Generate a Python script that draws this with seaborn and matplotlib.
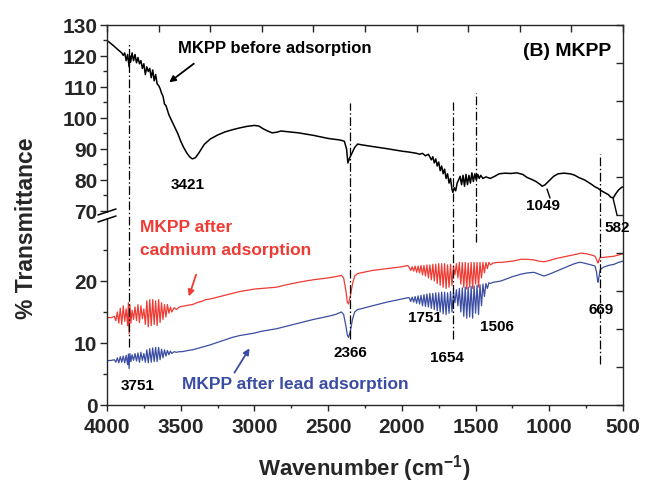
import matplotlib
matplotlib.use("Agg")
import matplotlib.pyplot as plt
from matplotlib.patches import FancyArrowPatch, Rectangle
from matplotlib.lines import Line2D
import seaborn as sns

# ---------------- data ----------------
wn_before = [4000, 3960, 3920, 3900, 3890, 3880, 3870, 3860, 3850, 3845,
             3840, 3830, 3820, 3810, 3800, 3790, 3780, 3770, 3760, 3750,
             3740, 3730, 3720, 3710, 3700, 3690, 3680, 3670, 3660, 3650,
             3640, 3630, 3620, 3610, 3600, 3580, 3560, 3540, 3520, 3500,
             3480, 3460, 3440, 3421, 3400, 3380, 3360, 3340, 3300, 3250,
             3200, 3150, 3100, 3050, 3000, 2970, 2940, 2910, 2880, 2850,
             2820, 2780, 2700, 2600, 2500, 2420, 2390, 2375, 2366, 2355,
             2340, 2320, 2300, 2280, 2200, 2100, 2000, 1950, 1900, 1880,
             1860, 1840, 1820, 1800, 1790, 1780, 1770, 1760, 1750, 1740,
             1730, 1720, 1710, 1700, 1690, 1680, 1670, 1660, 1654, 1645,
             1635, 1625, 1615, 1605, 1595, 1585, 1575, 1565, 1555, 1545,
             1535, 1525, 1515, 1505, 1495, 1485, 1475, 1465, 1450, 1430,
             1400, 1370, 1340, 1300, 1260, 1220, 1180, 1150, 1120, 1090,
             1060, 1049, 1030, 1000, 970, 940, 900, 860, 830, 800,
             760, 720, 690, 669, 650, 620, 600, 582, 565, 550,
             530, 510, 500]
t_before = [125, 123.5, 121.8, 121, 120.2, 121, 118.5, 120.5, 116.5, 120,
            118, 121, 118.5, 120.5, 117.8, 119.5, 117.5, 118.5, 116, 117.5,
            114, 116.5, 115, 116, 113, 115.5, 112, 114, 111, 110.5,
            109.5, 108, 107, 104.5, 104, 101, 99, 97, 95, 92.5,
            90.5, 88.8, 87.5, 86.8, 87.2, 88.5, 90, 91.5, 93.2, 94.5,
            95.5, 96.2, 96.8, 97.3, 97.6, 97.4, 96.5, 95.8, 95.2, 95.4,
            95.8, 95.6, 95.2, 94.4, 93.4, 92.9, 92.5, 90, 85.5, 87,
            88.5, 90.5, 91.6, 91.4, 90.8, 90.1, 89.3, 89, 88.6, 88.3,
            88.6, 87.8, 88.3, 86.5, 87.5, 85.5, 86.8, 84.5, 85.8, 83,
            84.5, 82, 83.5, 80.5, 82, 79, 80.5, 77, 76, 77.5,
            76.5, 79, 80, 81.2, 78.5, 81.5, 78, 81.8, 78.5, 81.5,
            79, 82.3, 79.5, 82, 80, 81.8, 80.5, 81.5, 80.5, 81,
            80.5, 81.2, 82, 82.2, 82.1, 82.3, 81.8, 80.8, 80.2, 79.5,
            78.5, 78.0, 78.4, 79.8, 81.2, 82.0, 82.2, 82.0, 81.6, 80.8,
            80.0, 78.8, 77.8, 77.3, 76.6, 75.8, 75.3, 74.4, 74.3, 75.5,
            76.8, 77.6, 77.8]

wn_after = [4000, 3970, 3950, 3940, 3930, 3920, 3910, 3900, 3890, 3880,
            3870, 3860, 3855, 3850, 3845, 3838, 3830, 3820, 3810, 3800,
            3790, 3780, 3770, 3760, 3750, 3740, 3730, 3720, 3710, 3700,
            3690, 3680, 3670, 3660, 3650, 3640, 3630, 3620, 3610, 3600,
            3590, 3580, 3570, 3560,
            3545, 3530, 3510, 3490, 3470, 3450, 3420, 3390, 3360, 3330,
            3300, 3250, 3200, 3150, 3100, 3050, 3000, 2950, 2900, 2850,
            2800, 2700, 2600, 2500, 2450, 2410, 2395, 2380, 2370, 2362,
            2350, 2335, 2320, 2300, 2280, 2200, 2100, 2000, 1960,
            1950, 1940, 1930, 1920, 1910, 1900, 1890, 1880, 1870, 1860,
            1850, 1840, 1830, 1820, 1810, 1800, 1790, 1780, 1770, 1760,
            1750, 1740, 1730, 1720, 1710, 1700, 1690, 1680, 1670, 1660,
            1650, 1640, 1630, 1620, 1610, 1600, 1590, 1580, 1570, 1560,
            1550, 1540, 1530, 1520, 1510, 1500, 1490, 1480, 1470, 1460,
            1450, 1440, 1430, 1420, 1410,
            1400, 1380, 1350, 1328, 1250, 1192, 1150, 1104, 1070, 1036,
            1000, 960, 920, 880, 840, 800, 784, 750, 716, 690,
            680, 672, 669, 664, 655, 635, 600, 560, 530, 500]
t_cadmium = [14.1, 14.1, 14.3, 13.6, 15.0, 13.2, 15.6, 13.0, 16.0, 13.5,
             15.5, 12.8, 16.5, 11.5, 16.2, 13.2, 15.3, 13.8, 15.8, 13.6,
             16.2, 13.3, 16.0, 13.9, 15.5, 13.0, 16.8, 12.6, 17.0, 12.8,
             17.0, 13.0, 16.8, 12.8, 17.0, 13.3, 16.5, 13.8, 16.2, 14.2,
             16.2, 14.8, 15.8, 15.0,
             15.7, 15.4, 15.8, 15.9, 16.0, 16.1, 16.2, 16.5, 16.7, 17.0,
             17.1, 17.4, 17.7, 18.0, 18.3, 18.5, 18.7, 18.8, 18.9, 19.0,
             19.3, 19.8, 20.2, 20.5, 20.7, 20.9, 20.5, 18.5, 16.6, 16.3,
             17.5, 19.5, 20.8, 21.2, 21.3, 21.7, 22.0, 22.3, 22.5,
             22.2, 21.7, 22.3, 21.6, 22.4, 21.4, 22.4, 21.3, 22.5, 21.0,
             22.5, 20.8, 22.6, 20.5, 22.6, 20.2, 22.7, 20.0, 22.7, 19.6,
             22.8, 19.3, 22.8, 19.0, 22.8, 18.8, 22.6, 19.0, 22.7, 19.3,
             22.4, 21.0, 22.8, 20.5, 23.0, 19.5, 23.0, 19.0, 23.0, 18.7,
             22.9, 19.0, 23.0, 18.8, 23.0, 19.5, 23.0, 19.0, 23.0, 20.5,
             23.0, 21.3, 23.0, 22.0, 23.0,
             22.6, 22.9, 23.0, 23.0, 23.2, 23.5, 23.5, 23.4, 23.2, 23.1,
             23.3, 23.6, 23.8, 24.0, 24.2, 24.4, 24.5, 24.4, 24.2, 24.0,
             23.5, 23.0, 22.9, 23.3, 23.8, 23.8, 23.9, 24.0, 24.2, 24.4]
t_lead = [7.15, 7.2, 7.3, 6.9, 7.6, 6.8, 7.8, 6.9, 7.9, 6.8,
          8.0, 6.5, 8.2, 5.9, 8.3, 7.0, 8.1, 7.2, 8.3, 7.1,
          8.4, 6.9, 8.5, 7.2, 8.3, 6.9, 8.9, 6.8, 9.1, 6.9,
          9.2, 7.0, 9.3, 7.0, 9.3, 7.3, 9.0, 7.6, 8.9, 7.9,
          8.8, 8.1, 8.7, 8.3,
          8.6, 8.5, 8.6, 8.6, 8.7, 8.8, 8.9, 9.1, 9.3, 9.5,
          9.7, 10.1, 10.5, 10.9, 11.2, 11.4, 11.6, 11.9, 12.1, 12.3,
          12.6, 13.2, 13.8, 14.3, 14.6, 15.0, 14.6, 12.8, 11.3, 10.9,
          11.8, 13.8, 15.0, 15.4, 15.5, 16.0, 16.6, 17.1, 17.3,
          17.3, 16.7, 17.4, 16.6, 17.5, 16.4, 17.6, 16.3, 17.7, 16.0,
          17.8, 15.9, 17.9, 15.8, 18.0, 15.6, 18.0, 15.4, 18.1, 15.2,
          18.1, 15.0, 18.2, 14.7, 18.2, 14.6, 18.1, 14.8, 18.3, 15.0,
          18.2, 16.5, 18.6, 16.0, 18.8, 15.0, 18.9, 14.3, 19.0, 14.0,
          19.0, 14.2, 19.1, 14.0, 19.2, 14.8, 19.3, 14.6, 19.4, 16.0,
          19.5, 17.5, 19.6, 18.8, 19.7,
          19.6, 19.8, 19.9, 20.0, 20.7, 21.1, 21.3, 21.4, 21.1, 20.8,
          21.1, 21.5, 21.9, 22.3, 22.7, 23.0, 23.0, 22.8, 22.6, 22.4,
          21.5, 20.0, 19.8, 20.5, 21.8, 22.2, 22.5, 22.7, 23.0, 23.2]

x_major = [4000, 3500, 3000, 2500, 2000, 1500, 1000, 500]
x_minor = [3750, 3250, 2750, 2250, 1750, 1250, 750]
low_major = [0, 10, 20]
low_minor = [5, 15, 25]
up_major = [70, 80, 90, 100, 110, 120, 130]
up_minor = [75, 85, 95, 105, 115, 125]
frame_xticks = [4000, 3650, 3300, 2950, 2600, 2250, 1900, 1550, 1200, 850, 500]
frame_yticks = [0, 1, 2, 3, 4, 5, 6, 7, 8, 9, 10]
marker_lines = [3848, 2355, 1650, 1498, 658]

RED = "#EE3B34"
BLUE = "#3A4DA2"

# ---------------- style ----------------
sns.set_style("ticks")
plt.rcParams["font.family"] = ["Liberation Sans", "DejaVu Sans"]
plt.rcParams["font.weight"] = "bold"
plt.rcParams["mathtext.fontset"] = "custom"
plt.rcParams["mathtext.rm"] = "Liberation Sans:bold"
plt.rcParams["mathtext.default"] = "rm"
plt.rcParams["axes.linewidth"] = 1.0

W, H = 645, 485
fig = plt.figure(figsize=(W / 100, H / 100), dpi=100)


def fx(p):
    return p / W


def fy(p):
    return 1 - p / H


L, R = fx(107), fx(623)
ax_low = fig.add_axes([L, fy(406), R - L, fy(219) - fy(406)])
ax_up = fig.add_axes([L, fy(214), R - L, fy(26) - fy(214)])
frame = fig.add_axes([L, fy(406), R - L, fy(26) - fy(406)])
frame.patch.set_visible(False)
ax_low.patch.set_visible(False)
ax_up.patch.set_visible(False)

sns.lineplot(x=wn_before, y=t_before, ax=ax_up, color="black", linewidth=1.1,
             sort=False, estimator=None)
sns.lineplot(x=wn_after, y=t_cadmium, ax=ax_low, color=RED, linewidth=0.9,
             sort=False, estimator=None)
sns.lineplot(x=wn_after, y=t_lead, ax=ax_low, color=BLUE, linewidth=0.9,
             sort=False, estimator=None)

for ax in (ax_low, ax_up, frame):
    ax.set_xlim(4000, 500)
    ax.set_xlabel("")
    ax.set_ylabel("")

TICK_FS = 15

# lower axis
ax_low.set_ylim(0, 30.16)
ax_low.set_xticks(x_major)
ax_low.set_xticklabels([str(v) for v in x_major])
ax_low.set_xticks(x_minor, minor=True)
ax_low.set_yticks(low_major)
ax_low.set_yticklabels([str(v) for v in low_major])
ax_low.set_yticks(low_minor, minor=True)
ax_low.spines["top"].set_visible(False)
ax_low.spines["right"].set_visible(False)
ax_low.tick_params(axis="x", which="major", direction="out", length=4.5, width=1,
                   labelsize=TICK_FS, pad=4)
ax_low.tick_params(axis="x", which="minor", direction="out", length=2.5, width=1)
ax_low.tick_params(axis="y", which="major", direction="out", length=5, width=1,
                   labelsize=TICK_FS, pad=2)
ax_low.tick_params(axis="y", which="minor", direction="out", length=3, width=1)

# upper axis
ax_up.set_ylim(69.35, 130)
ax_up.set_yticks(up_major)
ax_up.set_yticklabels([str(v) for v in up_major])
ax_up.set_yticks(up_minor, minor=True)
ax_up.set_xticks([])
ax_up.set_xticks([], minor=True)
for s in ("top", "right", "bottom"):
    ax_up.spines[s].set_visible(False)
ax_up.tick_params(axis="y", which="major", direction="out", length=5, width=1,
                  labelsize=TICK_FS, pad=2)
ax_up.tick_params(axis="y", which="minor", direction="out", length=3, width=1)

for ax in (ax_low, ax_up):
    for lab in ax.get_xticklabels() + ax.get_yticklabels():
        lab.set_fontweight("bold")

# frame (top / right axes, unlabeled)
frame.set_ylim(0, 10)
frame.set_xticks(frame_xticks)
frame.set_yticks(frame_yticks)
frame.spines["left"].set_visible(False)
frame.spines["bottom"].set_visible(False)
frame.tick_params(top=True, right=True, bottom=False, left=False,
                  labeltop=False, labelright=False, labelbottom=False,
                  labelleft=False, direction="in", length=5, width=1)

# dash-dot marker lines
spans = [(0.153, 0.955), (0.174, 0.795), (0.174, 0.797), (0.429, 0.821), (0.108, 0.661)]
for x, (y0, y1) in zip(marker_lines, spans):
    frame.axvline(x, ymin=y0, ymax=y1, color="black", lw=0.9,
                  linestyle=(0, (7, 2, 1.2, 2)))

# axis break marks
fig.add_artist(Rectangle((fx(100), fy(219)), fx(14), fy(214) - fy(219),
                         transform=fig.transFigure, facecolor="white",
                         edgecolor="none", zorder=5))
for y in (213, 220):
    fig.add_artist(Line2D([fx(98), fx(116)], [fy(y + 3), fy(y - 3)],
                          transform=fig.transFigure, color="black", lw=1.1, zorder=6))

# axis labels
fig.text(fx(364), fy(469), "Wavenumber (cm$^{-1}$)", ha="center", va="center",
         fontsize=16, fontweight="bold")
fig.text(fx(27), fy(228), "% Transmittance", ha="center", va="center",
         rotation=90, fontsize=16.5, fontweight="bold")

# annotations
def label(x, y, s, color="black", size=11, ha="center"):
    fig.text(fx(x), fy(y), s, ha=ha, va="center", color=color,
             fontsize=size, fontweight="bold")


label(178, 48, "MKPP before adsorption", size=12, ha="left")
label(611, 52, "(B) MKPP", size=14, ha="right")
label(188, 185, "3421")
label(543, 206, "1049")
label(617, 228, "582")
label(140, 228, "MKPP after", color=RED, size=12.5, ha="left")
label(140, 251, "cadmium adsorption", color=RED, size=12.5, ha="left")
label(138, 386, "3751")
label(182, 385, "MKPP after lead adsorption", color=BLUE, size=12.5, ha="left")
label(350, 353, "2366")
label(425, 318, "1751")
label(447, 358, "1654")
label(497, 327, "1506")
label(601, 310, "669")

# arrows
def arrow(p0, p1, color):
    fig.add_artist(FancyArrowPatch((fx(p0[0]), fy(p0[1])), (fx(p1[0]), fy(p1[1])),
                                   transform=fig.transFigure, arrowstyle="-|>",
                                   mutation_scale=9, lw=1.3, color=color))


arrow((196, 63), (167, 85), "black")
arrow((197, 273), (188, 300), RED)
arrow((233, 376), (251, 347), BLUE)

# pointer ticks
for (a, b) in (((547, 190), (550, 199)), ((613, 199), (617, 216))):
    fig.add_artist(Line2D([fx(a[0]), fx(b[0])], [fy(a[1]), fy(b[1])],
                          transform=fig.transFigure, color="black", lw=1.0))

fig.savefig("out.png", dpi=100)
